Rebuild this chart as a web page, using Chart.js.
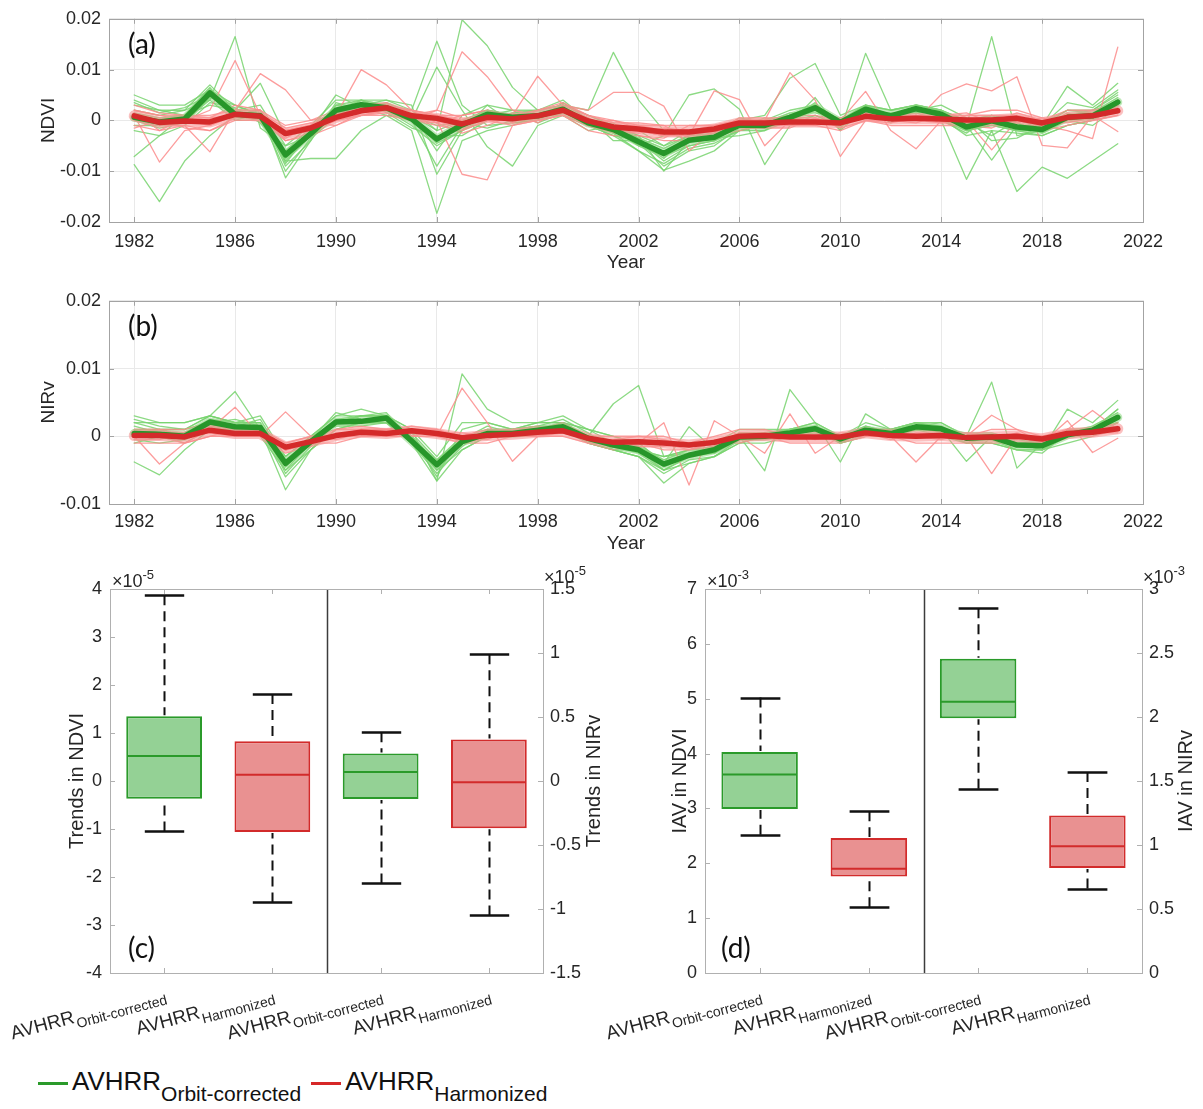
<!DOCTYPE html>
<html>
<head>
<meta charset="utf-8">
<title>AVHRR NDVI / NIRv anomalies, trends and IAV</title>
<script src="https://cdn.jsdelivr.net/npm/chart.js@4.4.1/dist/chart.umd.min.js"></script>
<style>
  html, body { margin: 0; padding: 0; background: #fff; }
  #wrap { position: relative; width: 1203px; height: 1109px; overflow: hidden;
          font-family: "Liberation Sans", Arial, sans-serif; color: #262626; }
  canvas { position: absolute; }
  .tag { position: absolute; font-family: Lato, "Open Sans", sans-serif; font-size: 28px;
         line-height: 1; color: #111; }
  #legend { position: absolute; left: 38px; top: 1066px; font-size: 26px; line-height: 30px;
            white-space: nowrap; color: #111; }
  #legend .key { display: inline-block; width: 30px; height: 3px; vertical-align: middle; margin-right: 4px; }
  #legend sub { font-size: 21px; vertical-align: -11px; margin-right: 10px; }
</style>
</head>
<body>
<div id="wrap">
  <canvas id="ndviChart" width="1203" height="282" style="left:0;top:0"></canvas>
  <canvas id="nirvChart" width="1203" height="283" style="left:0;top:282px"></canvas>
  <canvas id="trendChart" width="605" height="490" style="left:0;top:565px"></canvas>
  <canvas id="iavChart" width="603" height="490" style="left:600px;top:565px"></canvas>
  <div class="tag" style="left:128px;top:29px">(a)</div>
  <div class="tag" style="left:128px;top:311px">(b)</div>
  <div class="tag" style="left:128px;top:933px">(c)</div>
  <div class="tag" style="left:721px;top:933px">(d)</div>
  <div id="legend"><span class="key" style="background:#2a9a2a"></span>AVHRR<sub>Orbit-corrected</sub><span class="key" style="background:#d62728"></span>AVHRR<sub>Harmonized</sub></div>
</div>
<script>
// years and x ticks of the anomaly panels
const years = [1982,1983,1984,1985,1986,1987,1988,1989,1990,1991,1992,1993,1994,1995,1996,1997,1998,1999,2000,2001,
               2002,2003,2004,2005,2006,2007,2008,2009,2010,2011,2012,2013,2014,2015,2016,2017,2018,2019,2020,2021];
const yearTicks = [1982, 1986, 1990, 1994, 1998, 2002, 2006, 2010, 2014, 2018, 2022];

// NDVI anomalies, in units of 1e-3
const ndviOrbitMean = [0.6, -0.3, 0.3, 5.4, 1.2, 0.9, -6.8, -2.6, 2.0, 3.1,
                       2.5, 0.3, -3.7, -0.9, 1.2, 0.6, 0.9, 2.2, -0.5, -1.8,
                       -4.2, -6.5, -3.9, -3.3, -0.9, -1.0, 0.6, 2.5, -0.4, 2.2,
                       0.9, 2.3, 1.2, -1.3, -0.1, -1.3, -1.8, 0.6, 0.9, 3.6];
const ndviHarmMean = [0.9, -0.4, -0.1, -0.3, 1.2, 0.8, -2.6, -1.5, 0.6, 1.9,
                      2.5, 0.9, 0.4, -0.7, 0.6, 0.3, 0.9, 2.0, -0.1, -1.3,
                      -1.7, -2.3, -2.3, -1.7, -0.5, -0.5, -0.3, -0.3, -0.5, 0.8,
                      0.3, 0.4, 0.3, 0.1, 0.1, 0.4, -0.5, 0.6, 0.9, 1.9];
const ndviOrbitMembers = [
  [2, 1, 2, 4, 16.5, -1.5, -5, -3, 3, 2,  3, 1, -2, 19.8, 14.7, 6.5, 2, 3, 1, -1,
   -3, -5, -2, -2, 0, -1, 1, 3, 0, 3,  1, 2, 1, -1, 16.5, -3, -2, 1, 2, 5],
  [-8.7, -16, -8, -3, 1, 1, -8, -7.5, -7.5, -2,  1, -2, -18.3, -4, -2, -1, 1, 2, -1, -3,
   -6, -9.8, -8, -6, -2, -1, 0, 1, -1, 1,  0, 1, 0, -11.6, -2, -14, -9.2, -11.4, -8, -4.6],
  [-7.1, -3, 1, 3, 2, 7.3, -3, -2, 1, 3,  4, 2, 15.6, 3, -1, -0.5, 0, 3, 2, 13.4,
   4, -2, -4, -3, -1, 0, 1, 3, -2, 13.2,  2, 3, 2, -1, 0, -1, -2, 1, 1, 4],
  [4, 2, 1, 6, 2, 2, -11.3, -4, 3, 4,  2, 0, 10.5, 2, -5.2, -9, -1, 1, -1, -2,
   -5, -3, 5, 6.2, 2.2, -8.7, -1, 1, -1, 2,  1, 2, 1, -2, -1, -2, -2, 0, 1, 4],
  [5, 3, 3, 6, 3, 1, -8, -3, 2, 4,  4, 3, -10.6, -2, 1, 2, 2, 3, 1, -1,
   -3, -10, -4, -4, 0, 1, 8.3, 11.2, 1, 3,  2, 3, 2, 0, 1, 0, -1, 6.7, 3, 7.3],
  [1, 0, 1, 5, 1, 0, -7, -2, 1, 3,  2, 0, -9, -1, 2, 1, 1, 2, -1, -2,
   -5, -7, -5, -4, -1, -1, 1, 2, -1, 2,  1, 2, 1, -1, -7.8, -1, -2, 0, 1, 3],
  [-1, -1, 0, 4, 0, 0, -7.5, -3, 2, 3,  2, -1, -5, -2, 0, 0, 1, 1, -1, -3,
   -4, -8, -5, -4, -2, -1, 0, 2, -1, 1,  0, 1, 0, -2, -1, -2, -3, -1, 0, 3],
  [3, 2, 2, 7, 2, 3, -5, -1, 4, 4,  3, 2, -2, 0, 2, 1, 2, 4, 0, -1,
   -2, -5, -3, -2, 0, 0, 2, 3, 0, 3,  2, 3, 2, 0, 1, -1, -1, 2, 2, 5.5],
  [1.5, 0.5, 1, 6.5, 0, 1.5, -9, -4, 3.5, 2,  3.5, 1.5, -6, 1, 3, -0.5, 0, 3.5, 0, -2.5,
   -6, -8.5, -5.5, -4.5, -2, -2, 0, 3.5, -1.5, 3,  -0.5, 3, 0.5, -3, -2, -2.5, -3, -1, 0, 3],
  [-2, -3, -1, 3.5, 2.5, -0.5, -6, -1.5, 1, 4,  1.5, -1.5, -3, -3, 0, 1.5, 2, 1, -2, -1,
   -3.5, -5.5, -3, -2.5, 0.5, -0.5, 1.5, 1.5, 0.5, 1.5,  1.5, 1.5, 2, -0.5, -3, 0, -0.5, 2, 1.5, 4.5],
  [3.5, 1.5, 2.5, 5, 1, 2, -8.5, -2, 5, 2.5,  1, 0.5, -4.5, -2, 3, 2, -0.5, 1.5, -1, -0.5,
   -4.5, -9, -6, -5, -1.5, 0.5, -0.5, 4.5, -2, 2.5,  0, 2, 3, 0.5, -4, -3.5, -1, 3.5, 2.5, 6],
  [0, -1.5, -0.5, 4.5, 3, 1, -10, -3.5, 0.5, 3.5,  2, 1, -1, -0.5, -1.5, 0, 1, 2.5, 0.5, -4,
   -4, -7.5, -2.5, -3.5, -3, -2, 1, 2, 0, 1,  1, 1.5, 0, -2.5, 1, -0.5, -2.5, 0, -1, 2.5]
];
const ndviHarmMembers = [
  [2, 1, 0, 2, 11.8, 1, -2, -1, 1, 2,  3, 1, 2, 13.5, 8.6, 2, 1, 2, 0, -1,
   -1, -2, -2, -1, 0, 0, 0, 0, 0, 1,  0, 1, 0, 0, 0, 1, -1, -2, -3.6, 14.4],
  [1, -8.2, -2, -1, 1, 0, -3, -2, 0, 1,  2, 1, 0, -10.6, -11.7, -1, 0, 2, -1, -2,
   -2, -3, -3, -2, 0, 0, 9.4, 4, -7.1, 0,  0, 0, 0, 0, 0, 0, -1, 0, 1, 2],
  [0, -1, -1, -6.2, 2, 9.2, 6, 0, 1, 10,  7, 2, 1, 0, 1, 1, 1, 2, 0, -1,
   -2, -3, -2, -2, -1, -1, 0, 0, 0, 1,  0, 0, 0, 0, 0, 0, -1, 1, 1, 2],
  [1, 0, 0, 0, 1, 1, -2, -1, 1, 2,  2, 1, 1, 0, 1, 1, 8.7, 3, 2, 5.5,
   5.5, 2.8, -6, -2, 0, 0, 0, -1, 0, 1,  0, 0, 0, 0, -5.8, 0, -1, 0, 1, 2],
  [0, -1, 0, -1, 1, 0, -3, -2, 0, 1,  2, 0, 0, -1, 0, 0, 1, 2, -1, -2,
   -2, -3, -3, 5.8, 4.1, -5, 0, 0, 0, 5.7,  -2, -5.6, 0, 0, 0, 0, -1, 1, 1, 2],
  [1, 0, 0, 0, 1, 1, -2, -1, 1, 2,  2, 1, 0, -1, 1, 0, 1, 2, 0, -1,
   -2, -2, -2, -2, -1, 0, 0, 0, -1, 1,  0, 0, 5.1, 7.2, 5.8, 8.6, -4.9, -5.4, 1, -2.2],
  [-1, -2, -1, -2, 0, 0, -4, -3, -1, 1,  1, 0, -1, -2, 0, -1, 0, 1, -2, -3,
   -3, -4, -4, -3, -2, -1, -1, -1, -2, 0,  -1, -1, -1, -1, -1, -1, -2, -1, 0, 1],
  [2, 1, 1, 1, 2, 2, -1, 0, 2, 3,  3, 2, 1, 1, 2, 1, 2, 3, 1, 0,
   -1, -1, -1, -1, 0, 0, 1, 1, 0, 2,  1, 1, 1, 1, 1, 1, 0, 2, 2, 3],
  [1.5, -2, 0.5, 0.5, 3, 2, -4, -2.5, 1.5, 3,  3.5, 0, -0.5, 1, 2, -0.5, 2, 3.5, 1, -0.5,
   -0.5, -1, -3.5, -2.5, 0.5, 0.5, 0.5, -1, 0.5, 1.5,  1, 1, -0.5, 1, 2, 2, 0.5, 0, 2, 3],
  [0, 0.5, -1.5, -2, 0.5, 1.5, -1.5, -0.5, -1, 1.5,  2, 2, -0.5, -2.5, -1, 1, 0, 1, -1, -2.5,
   -3, -3.5, -1, -1, -1.5, -1.5, -1.5, 0.5, -1.5, 0,  -0.5, 0.5, 1.5, -1, -1.5, 0.5, -2, 1.5, 0, 1],
  [3, 1.5, 1, 0.5, 1, 0, -3.5, -1, 2, 1,  1.5, 0, 2, 0.5, 0, 1.5, -0.5, 2.5, 0.5, -2,
   -2.5, -1.5, -2, -2.5, 0, -1, 0.5, 0.5, -1, 2,  0, -0.5, 1, 1.5, -0.5, 1.5, 0, 0.5, 1.5, 1.5],
  [-1.5, 0, 0.5, -1, 2, 1, -2.5, -2, 0, 2.5,  2.5, 1.5, 0, -2, 1.5, 0.5, 0.5, 1.5, -0.5, 0,
   -1.5, -2.5, -2, -1.5, -0.5, 0, -1, -0.5, 0, 0.5,  0.5, 0, -0.5, -0.5, 0.5, -0.5, 0.5, -0.5, 0.5, 2.5]
];

// NIRv anomalies, in units of 1e-3
const nirvOrbitMean = [0.4, 0.3, 0, 2.1, 1.4, 1.3, -4.0, -0.8, 2.1, 2.2,
                       2.7, -0.7, -4.2, -0.8, 0.4, 0.4, 0.9, 1.4, -0.3, -1.3,
                       -2.0, -4.1, -2.8, -2.0, -0.1, 0, 0.5, 1.1, -0.4, 0.9,
                       0.4, 1.4, 1.1, -0.3, -0.1, -1.3, -1.4, 0.2, 0.9, 2.8];
const nirvHarmMean = [0.1, 0.1, -0.1, 0.9, 0.4, 0.4, -1.6, -0.8, 0.1, 0.6,
                      0.4, 0.8, 0.4, -0.2, 0.1, 0.3, 0.6, 0.8, -0.3, -0.9,
                      -0.8, -1.0, -1.3, -0.9, 0, 0.1, -0.1, -0.1, -0.1, 0.5,
                      0.1, 0, 0.1, -0.2, -0.1, 0, -0.4, 0.4, 0.6, 1.1];
const nirvOrbitMembers = [
  [-3.8, -5.7, -2, 1, 1, 1, -5, -1, 2, 2,  2, 0, -5, -1, 0, 0, 1, 1, -1, -2,
   -2, -5, -3, -2, 0, 0, 1, 1, -1, 1,  0, 1, 1, 0, 0, -1, -1, 0, 1, 3],
  [1, 1, 1, 3, 6.6, 1, -7.9, -2, 2, 3,  3, 1, -6.6, 9.2, 4, 2, 2, 2, 0, 4.8,
   7.5, -3, -2, -2, 0, 0, 1, 1, -1, 1,  0, 1, 1, 0, 8, -4.7, -1, 1, 1, 3],
  [2, 1, 1, 3, 2, 2, -4, 0, 3, 3,  3, 0, -6, 1, 2, 1, 2, 2, 1, 0,
   -1, -4, 1.4, -2, 0, -5.1, 6.9, 2, -3.8, 3.3,  1, 2, 1, -3.7, 0, -1, -2, 4, 2, 5.3],
  [-1, 0, 0, 2, 1, 0, -5, -2, 1, 2,  2, -1, -6.6, -2, 0, 0, 0, 1, -1, -2,
   -3, -6.9, -4, -3, -1, -1, 0, 1, -1, 0,  0, 1, 1, -1, -1, -2, -2, 0, 1, 2],
  [2, 2, 2, 3, 2, 3, -3, 0, 3, 4,  3, 1, -3, 2, 2, 1, 2, 3, 1, -1,
   -2, -3, -2, -1, 1, 1, 1, 2, 0, 2,  1, 2, 2, 0, 0, 0, -1, 1, 1, 4],
  [0, 0, -1, 1, 1, 1, -6, -2, 1, 2,  2, -1, -5, -2, 0, 0, 1, 1, -1, -2,
   -3, -5, -4, -3, -1, 0, 0, 1, -1, 0,  0, 1, 0, -1, -1, -2, -2, -1, 0, 2],
  [3, 2, 2, 3, 2, 1, -4, -1, 2, 3,  3, 0, -4, -1, 1, 1, 1, 2, 1, 0,
   -1, -4, -3, -2, 0, 0, 1, 2, 0, 1,  1, 2, 1, 0, 0, -1, -1, 0, 1, 3],
  [0, 1, 0, 2, 1, 1, -4.5, -1, 2, 2,  2, 0, -4, -1, 0, 1, 1, 1, -1, -1,
   -2, -4.5, -3, -2, 0, 0, 0, 1, -1, 1,  0, 1, 1, 0, 0, -1, -2, 0, 1, 4],
  [1.5, 0.5, 0.5, 2.5, 2, 2, -5.5, -1.5, 2.5, 3,  3.5, -1, -5.5, -1.5, 1, 1, 1.5, 2.5, 0.5, -2,
   -3, -5.5, -3.5, -3, -0.5, 0.5, 1, 1.5, -1, 1.5,  0.5, 2, 1.5, -0.5, -0.5, -2, -2.5, 0.5, 1.5, 3.5],
  [-0.5, -1, -0.5, 1.5, 0.5, 0.5, -3, 0, 1.5, 1.5,  2, 0.5, -3.5, 0, 0.5, 0, 0.5, 1, -0.5, -0.5,
   -1.5, -3.5, -2, -1.5, 0.5, 0.5, 0, 0.5, 0, 0.5,  0, 1, 1, 0.5, 0.5, -0.5, -1, 0.5, 0.5, 2.5],
  [2.5, 1.5, 1, 2, 2.5, 1.5, -4.5, -0.5, 3.5, 2.5,  2, -0.5, -4.5, -0.5, 1.5, 0.5, 0.5, 2, 0, -1.5,
   -2.5, -5, -3, -2.5, -0.5, 0, 0.5, 1, -0.5, 1,  1, 1.5, 2, 0, -0.5, -1.5, -1.5, 1, 1, 3],
  [0.5, 0.5, 0.5, 2, 1.5, 2.5, -3.5, -0.5, 2, 3,  3, -0.5, -3.5, -0.5, 0, 1, 1.5, 1.5, -1, -1,
   -2, -3, -2.5, -2.5, 0, 0.5, 0.5, 1.5, 0, 1.5,  0.5, 1.5, 0.5, -1, 0, -1.5, -1, 0, 0.5, 2]
];
const nirvHarmMembers = [
  [0, -4.1, -1, 0, 1, 0, -2, -1, 0, 1,  1, 1, 0, 7.1, 2, -3.7, 0, 1, 0, -1,
   -1, -1, -1, -1, 0, 0, 0, 0, 0, 1,  0, 0, 0, 0, -5.5, 0, -1, 0, 1, 1],
  [1, 1, 0, 1, 4.3, 0, 3.6, 0, 0, 1,  1, 1, 0, 0, 1, 0, 1, 1, 0, -1,
   -1, 2, -7.2, 2.3, 0, -2.5, 3.3, -2.5, 0, 1,  0, 0, 0, 0, 0, 0, -1, 1, 3.8, 1],
  [0, 0, 0, 1, 0, 1, -2, -1, 0, 1,  0, 0, 1, -1, 0, 0, 1, 1, -1, -1,
   -1, -1, -2, -1, 0, 0, 0, 0, 0, 1,  0, -3.8, 0, 0, 3.1, 1, -1, 2.3, -2.4, -0.3],
  [-1, -1, -1, 0, 0, 0, -2, -1, -1, 0,  0, 0, 0, -1, -1, 0, 0, 0, -1, -2,
   -1, -2, -2, -1, -1, 0, -1, -1, -1, 0,  0, -1, -1, -1, -1, -1, -1, 0, 0, 1],
  [1, 1, 1, 2, 1, 1, -1, 0, 1, 1,  1, 1, 1, 0, 1, 1, 1, 2, 0, 0,
   0, 0, -1, 0, 1, 1, 0, 0, 0, 1,  1, 1, 1, 0, 1, 1, 0, 1, 1, 2],
  [0, 0, -1, 1, 0, 0, -2, -1, 0, 0,  0, 1, 0, 0, 0, 0, 0, 1, 0, -1,
   -1, -1, -1, -1, 0, 0, 0, 0, 0, 0,  0, 0, 0, 0, 0, 0, 0, 0, 1, 1],
  [0.5, 1, 0, 1.5, 1, 0, -2.5, -1.5, 1, 1.5,  1, 1.5, 1, -0.5, -0.5, 1, 1.5, 0.5, -0.5, -1.5,
   -1.5, -1.5, -1, -1.5, 0.5, 0.5, 0.5, -0.5, 0.5, 0.5,  -0.5, 0.5, 0.5, -0.5, -0.5, 0.5, -0.5, 1, 1, 1.5],
  [-0.5, -0.5, 0.5, 0.5, 0, 1, -1, 0, -0.5, 0.5,  0.5, 0.5, 0.5, 0.5, 0, 0.5, 0, 0.5, -0.5, -0.5,
   0, -0.5, -1.5, -0.5, -0.5, -0.5, 0, 0, -0.5, 0,  0.5, 0, -0.5, 0.5, 0, -0.5, 0, 0, 0.5, 0.5]
];

// box statistics: [lower whisker, q1, median, q3, upper whisker]
const boxMain = 'AVHRR';
const boxLabels = ['Orbit-corrected', 'Harmonized', 'Orbit-corrected', 'Harmonized'];
const trendNdviOrbit = [-1.05, -0.37, 0.52, 1.35, 3.87];   // x 1e-5
const trendNdviHarm  = [-2.53, -1.06, 0.13, 0.83, 1.81];
const trendNirvOrbit = [-0.80, -0.14, 0.07, 0.215, 0.38];
const trendNirvHarm  = [-1.05, -0.37, -0.01, 0.325, 0.99];
const iavNdviOrbit = [2.52, 2.99, 3.62, 4.03, 5.02];        // x 1e-3
const iavNdviHarm  = [1.20, 1.76, 1.90, 2.46, 2.95];
const iavNirvOrbit = [1.44, 1.99, 2.12, 2.455, 2.85];
const iavNirvHarm  = [0.66, 0.82, 0.99, 1.23, 1.57];

const GREEN = '#27962a', RED = '#d42a2a';
const GREEN_THIN = 'rgba(120,212,110,0.85)', RED_THIN = 'rgba(252,140,140,0.85)';
const GREEN_BAND = 'rgba(140,215,130,0.55)', RED_BAND = 'rgba(248,150,150,0.6)';
const FONT = '"Liberation Sans", Arial, sans-serif';

Chart.defaults.font.family = FONT;
Chart.defaults.font.size = 18;
Chart.defaults.color = '#262626';
Chart.defaults.animation = false;
Chart.defaults.plugins.legend.display = false;
Chart.defaults.plugins.tooltip.enabled = false;

// box outline with small inward ticks, drawn over the lines
const seriesFrame = {
  id: 'seriesFrame',
  afterDatasetsDraw(chart) {
    const { ctx, chartArea: a, scales: { x, y } } = chart;
    ctx.save();
    ctx.strokeStyle = '#a3a3a3';
    ctx.lineWidth = 1;
    ctx.beginPath();
    x.ticks.forEach(t => {
      const px = Math.round(x.getPixelForValue(t.value)) + 0.5;
      ctx.moveTo(px, a.bottom); ctx.lineTo(px, a.bottom - 5);
      ctx.moveTo(px, a.top); ctx.lineTo(px, a.top + 5);
    });
    y.ticks.forEach(t => {
      const py = Math.round(y.getPixelForValue(t.value)) + 0.5;
      ctx.moveTo(a.left, py); ctx.lineTo(a.left + 5, py);
      ctx.moveTo(a.right, py); ctx.lineTo(a.right - 5, py);
    });
    ctx.stroke();
    ctx.strokeRect(Math.round(a.left) + 0.5, Math.round(a.top) + 0.5,
                   Math.round(a.right - a.left), Math.round(a.bottom - a.top));
    ctx.restore();
  }
};

function lineSet(values, color, width) {
  return { data: values, borderColor: color, borderWidth: width, pointRadius: 0,
           tension: 0, fill: false, borderJoinStyle: 'round', borderCapStyle: 'round' };
}

function seriesChart(id, orbitMean, harmMean, orbitMembers, harmMembers, yMin, yMax, yTitle, layout) {
  // first dataset is drawn last, so the two means end up on top
  const datasets = [lineSet(harmMean, RED, 5.5), lineSet(orbitMean, GREEN, 5.5),
                    lineSet(harmMean, RED_BAND, 11), lineSet(orbitMean, GREEN_BAND, 9)];
  harmMembers.forEach(m => datasets.push(lineSet(m, RED_THIN, 1.3)));
  orbitMembers.forEach(m => datasets.push(lineSet(m, GREEN_THIN, 1.3)));
  return new Chart(document.getElementById(id), {
    type: 'line',
    data: { labels: years, datasets: datasets },
    options: {
      responsive: false,
      devicePixelRatio: 1,
      layout: { padding: { top: layout.top, right: 60, left: 0, bottom: 0 } },
      scales: {
        x: {
          type: 'linear', min: 1981, max: 2022,
          afterBuildTicks: s => { s.ticks = yearTicks.map(v => ({ value: v })); },
          afterFit: s => { s.height = layout.xAxisH; },
          grid: { color: '#e9e9e9', drawTicks: false },
          border: { display: false },
          ticks: { padding: layout.tickPad, maxRotation: 0, autoSkip: false, callback: v => String(v) },
          title: { display: true, text: 'Year', font: { size: 19 }, padding: { top: 0, bottom: layout.titlePad } }
        },
        y: {
          min: yMin, max: yMax,
          afterFit: s => { s.width = 109; },
          grid: { color: '#e9e9e9', drawTicks: false },
          border: { display: false },
          ticks: { stepSize: 10, padding: 8, callback: v => (v === 0 ? '0' : String(v / 1000)) },
          title: { display: true, text: yTitle, font: { size: 19 }, padding: { top: 37, bottom: 0 } }
        }
      }
    },
    plugins: [seriesFrame]
  });
}

function drawExp(ctx, x, y, exp) {
  ctx.font = '18px ' + FONT;
  ctx.textAlign = 'left';
  ctx.textBaseline = 'alphabetic';
  ctx.fillText('\u00d710', x, y);
  const w = ctx.measureText('\u00d710').width;
  ctx.font = '13px ' + FONT;
  ctx.fillText(exp, x + w, y - 8);
}

// whiskers, medians, frame, divider and the rotated category labels
function boxDecor(leftExp, rightExp, rightTitle, rightTitleGap) {
  return {
    id: 'boxDecor',
    afterDatasetsDraw(chart) {
      const { ctx, chartArea: a, scales } = chart;
      const x = scales.x, yL = scales.yL, yR = scales.yR;
      ctx.save();
      chart.data.datasets.forEach((ds, i) => {
        const bar = chart.getDatasetMeta(i).data[ds.slot];
        const ys = scales[ds.yAxisID];
        const [lo, q1, med, q3, hi] = ds.stats;
        const cx = Math.round(bar.x) + 0.5;
        const half = bar.width / 2, cap = bar.width * 0.26;
        ctx.strokeStyle = '#111';
        ctx.lineWidth = 2;
        ctx.setLineDash([10, 6]);
        ctx.beginPath();
        ctx.moveTo(cx, ys.getPixelForValue(hi)); ctx.lineTo(cx, ys.getPixelForValue(q3) - 1);
        ctx.moveTo(cx, ys.getPixelForValue(lo)); ctx.lineTo(cx, ys.getPixelForValue(q1) + 1);
        ctx.stroke();
        ctx.setLineDash([]);
        ctx.lineWidth = 2.5;
        ctx.beginPath();
        [lo, hi].forEach(v => {
          const py = Math.round(ys.getPixelForValue(v)) + 0.5;
          ctx.moveTo(cx - cap, py); ctx.lineTo(cx + cap, py);
        });
        ctx.stroke();
        ctx.strokeStyle = ds.borderColor;
        ctx.lineWidth = 2;
        const pm = ys.getPixelForValue(med);
        ctx.beginPath();
        ctx.moveTo(bar.x - half + 1, pm); ctx.lineTo(bar.x + half - 1, pm);
        ctx.stroke();
      });

      const mid = Math.round((x.getPixelForValue(1) + x.getPixelForValue(2)) / 2) + 0.5;
      ctx.strokeStyle = '#3c3c3c';
      ctx.lineWidth = 1.5;
      ctx.beginPath();
      ctx.moveTo(mid, a.top); ctx.lineTo(mid, a.bottom);
      ctx.stroke();

      ctx.strokeStyle = '#b0b0b0';
      ctx.lineWidth = 1;
      ctx.strokeRect(Math.round(a.left) + 0.5, Math.round(a.top) + 0.5,
                     Math.round(a.right - a.left), Math.round(a.bottom - a.top));
      ctx.beginPath();
      boxLabels.forEach((_, i) => {
        const px = Math.round(x.getPixelForValue(i)) + 0.5;
        ctx.moveTo(px, a.bottom); ctx.lineTo(px, a.bottom - 5);
        ctx.moveTo(px, a.top); ctx.lineTo(px, a.top + 5);
      });
      yL.ticks.forEach(t => {
        const py = Math.round(yL.getPixelForValue(t.value)) + 0.5;
        ctx.moveTo(a.left, py); ctx.lineTo(a.left + 5, py);
      });
      yR.ticks.forEach(t => {
        const py = Math.round(yR.getPixelForValue(t.value)) + 0.5;
        ctx.moveTo(a.right, py); ctx.lineTo(a.right - 5, py);
      });
      ctx.stroke();

      ctx.fillStyle = '#262626';
      drawExp(ctx, a.left + 2, a.top - 2, leftExp);
      drawExp(ctx, a.right + 1, a.top - 6, rightExp);

      // right axis title reads bottom to top like the left one
      ctx.save();
      ctx.translate(a.right + rightTitleGap, (a.top + a.bottom) / 2);
      ctx.rotate(-Math.PI / 2);
      ctx.font = '20px ' + FONT;
      ctx.textAlign = 'center';
      ctx.textBaseline = 'middle';
      ctx.fillText(rightTitle, 0, 0);
      ctx.restore();

      boxLabels.forEach((sub, i) => {
        const px = x.getPixelForValue(i);
        ctx.save();
        ctx.translate(px + 4, a.bottom + 31);
        ctx.rotate(-15 * Math.PI / 180);
        ctx.textAlign = 'right';
        ctx.textBaseline = 'alphabetic';
        ctx.font = '14px ' + FONT;
        const subW = ctx.measureText(sub).width;
        ctx.fillText(sub, 0, 0);
        ctx.font = '19px ' + FONT;
        ctx.fillText(boxMain, -subW - 1, -6);
        ctx.restore();
      });
      ctx.restore();
    }
  };
}

function boxSet(stats, slot, axis, fill, edge) {
  return {
    type: 'bar', yAxisID: axis, stats: stats, slot: slot,
    data: boxLabels.map((_, i) => (i === slot ? [stats[1], stats[3]] : null)),
    backgroundColor: fill, borderColor: edge, borderWidth: 2, borderSkipped: false,
    grouped: false, barPercentage: 0.7, categoryPercentage: 1
  };
}

function boxChart(id, sets, left, right, leftW, rightW, leftTitlePad, decor) {
  return new Chart(document.getElementById(id), {
    type: 'bar',
    data: { labels: boxLabels, datasets: sets },
    options: {
      responsive: false,
      devicePixelRatio: 1,
      layout: { padding: { top: 24, bottom: 82, left: 0, right: 0 } },
      scales: {
        x: { display: false, offset: true },
        yL: {
          position: 'left', min: left.min, max: left.max,
          afterFit: s => { s.width = leftW; },
          grid: { display: false, drawTicks: false }, border: { display: false },
          ticks: { stepSize: left.step, padding: 8, callback: v => String(v) },
          title: { display: true, text: left.title, font: { size: 20 }, padding: { top: leftTitlePad, bottom: 0 } }
        },
        yR: {
          position: 'right', min: right.min, max: right.max,
          afterFit: s => { s.width = rightW; },
          grid: { display: false, drawTicks: false }, border: { display: false },
          ticks: { stepSize: right.step, padding: 7, callback: v => String(v) }
        }
      }
    },
    plugins: [decor]
  });
}

seriesChart('ndviChart', ndviOrbitMean, ndviHarmMean, ndviOrbitMembers, ndviHarmMembers, -20, 20, 'NDVI',
            { top: 15, xAxisH: 60, tickPad: 9, titlePad: 8 });
seriesChart('nirvChart', nirvOrbitMean, nirvHarmMean, nirvOrbitMembers, nirvHarmMembers, -10, 20, 'NIRv',
            { top: 14, xAxisH: 61, tickPad: 7, titlePad: 10 });

boxChart('trendChart', [
    boxSet(trendNdviOrbit, 0, 'yL', '#94d195', '#2a9a2a'),
    boxSet(trendNdviHarm, 1, 'yL', '#e99191', '#d22b2b'),
    boxSet(trendNirvOrbit, 2, 'yR', '#94d195', '#2a9a2a'),
    boxSet(trendNirvHarm, 3, 'yR', '#e99191', '#d22b2b')
  ],
  { min: -4, max: 4, step: 1, title: 'Trends in NDVI' },
  { min: -1.5, max: 1.5, step: 0.5 },
  110, 62, 65, boxDecor('-5', '-5', 'Trends in NIRv', 51));

boxChart('iavChart', [
    boxSet(iavNdviOrbit, 0, 'yL', '#94d195', '#2a9a2a'),
    boxSet(iavNdviHarm, 1, 'yL', '#e99191', '#d22b2b'),
    boxSet(iavNirvOrbit, 2, 'yR', '#94d195', '#2a9a2a'),
    boxSet(iavNirvHarm, 3, 'yR', '#e99191', '#d22b2b')
  ],
  { min: 0, max: 7, step: 1, title: 'IAV in NDVI' },
  { min: 0, max: 3, step: 0.5 },
  105, 61, 68, boxDecor('-3', '-3', 'IAV in NIRv', 44));
</script>
</body>
</html>
